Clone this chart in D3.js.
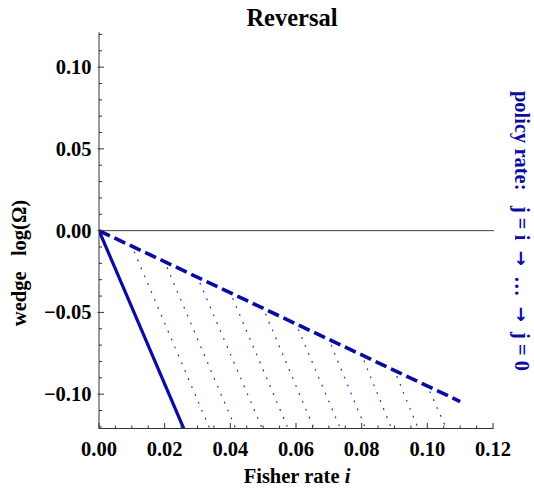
<!DOCTYPE html>
<html><head><meta charset="utf-8">
<script src="https://cdn.jsdelivr.net/npm/d3@7"></script>
<style>
html,body{margin:0;padding:0;background:#fff;}
svg{display:block;}
text{font-family:"Liberation Serif","Times New Roman",serif;font-weight:bold;}
tspan.arr{font-family:"DejaVu Sans",sans-serif;font-weight:bold;}
</style></head><body>
<script>
// ---- data ----
const xTickValues = [0, 0.02, 0.04, 0.06, 0.08, 0.10, 0.12];
const xTickLabels = ["0.00","0.02","0.04","0.06","0.08","0.10","0.12"];
const yTickValues = [-0.10, -0.05, 0, 0.05, 0.10];
const yTickLabels = ["\u22120.10","\u22120.05","0.00","0.05","0.10"];
const solidX = [0, 0.0258];
const solidY = [0, -0.121];
const dashedX = [0, 0.11];
const dashedY = [0, -0.1045];
const dotStartX = [0.01, 0.02, 0.03, 0.04, 0.05, 0.06, 0.07, 0.08, 0.09, 0.10];
const dotStartY = [-0.0095, -0.019, -0.0285, -0.038, -0.0475, -0.057, -0.0665, -0.076, -0.0855, -0.095];
const dotEndX = [0.0337, 0.0416, 0.0497, 0.0576, 0.0655, 0.0735, 0.0812, 0.0891, 0.0972, 0.1058];
const dotEndY = [-0.121, -0.121, -0.121, -0.121, -0.121, -0.121, -0.121, -0.121, -0.121, -0.121];

const W = 534, H = 497;
const svg = d3.select("body").append("svg").attr("width", W).attr("height", H);

const x = d3.scaleLinear().domain([0, 0.12]).range([99, 493]);
const y = d3.scaleLinear().domain([-0.121, 0.1213]).range([428.5, 32.3]);

const blue = "#0a0aa5";
const dotBlue = "#2626d6";

svg.append("clipPath").attr("id","clip").append("rect")
  .attr("x", x(0)).attr("y", y(0.1213)).attr("width", x(0.12)-x(0)+2).attr("height", y(-0.121)-y(0.1213));

const g = svg.append("g").attr("clip-path","url(#clip)");
const line = d3.line().x(d=>x(d[0])).y(d=>y(d[1]));

// zero line
g.append("line").attr("x1", x(0)).attr("x2", x(0.12)+1).attr("y1", y(0)).attr("y2", y(0))
  .attr("stroke","#444").attr("stroke-width",1);

// dotted lines
dotStartX.forEach((sx,i)=>{
  g.append("path").attr("d", line([[sx, dotStartY[i]],[dotEndX[i], dotEndY[i]]]))
    .attr("fill","none").attr("stroke",dotBlue).attr("stroke-width",1.2)
    .attr("stroke-dasharray","1.8,6.8").attr("stroke-dashoffset",-6);
});

// solid line
g.append("path").attr("d", line(solidX.map((v,i)=>[v, solidY[i]])))
  .attr("fill","none").attr("stroke",blue).attr("stroke-width",3.2);

// dashed line
g.append("path").attr("d", line(dashedX.map((v,i)=>[v, dashedY[i]])))
  .attr("fill","none").attr("stroke",blue).attr("stroke-width",3.6)
  .attr("stroke-dasharray","12,5");

// axes
const xAxisG = svg.append("g");
xAxisG.append("line").attr("x1", x(0)).attr("x2", x(0.12)+0.5).attr("y1", y(-0.121)).attr("y2", y(-0.121))
  .attr("stroke","#333").attr("stroke-width",1);
const xMinor = d3.range(0, 0.1201, 0.005);
xMinor.forEach(v=>{
  const major = xTickValues.some(t=>Math.abs(t-v)<1e-9);
  xAxisG.append("line").attr("x1", x(v)).attr("x2", x(v))
    .attr("y1", y(-0.121)).attr("y2", y(-0.121) - (major?5.5:3))
    .attr("stroke","#333").attr("stroke-width",1);
});
xTickValues.forEach((v,i)=>{
  xAxisG.append("text").attr("x", x(v)).attr("y", 455.5).attr("text-anchor","middle")
    .attr("font-size", 20.5).attr("fill","#000").text(xTickLabels[i]);
});

const yAxisG = svg.append("g");
yAxisG.append("line").attr("x1", x(0)).attr("x2", x(0)).attr("y1", y(0.1213)).attr("y2", y(-0.121))
  .attr("stroke","#333").attr("stroke-width",1);
const yMinor = d3.range(-12, 13, 1).map(k=>k*0.01);
yMinor.forEach(v=>{
  const major = yTickValues.some(t=>Math.abs(t-v)<1e-9);
  yAxisG.append("line").attr("x1", x(0) - (major?1.5:0)).attr("x2", x(0) + (major?5:3))
    .attr("y1", y(v)).attr("y2", y(v))
    .attr("stroke","#333").attr("stroke-width",1);
});
yTickValues.forEach((v,i)=>{
  yAxisG.append("text").attr("x", 91.5).attr("y", y(v)+7).attr("text-anchor","end")
    .attr("font-size", 20.5).attr("fill","#000").text(yTickLabels[i]);
});

// title
svg.append("text").attr("x", 292).attr("y", 26).attr("text-anchor","middle")
  .attr("font-size", 24.5).attr("fill","#000").text("Reversal");

// x label
const xl = svg.append("text").attr("x", 297).attr("y", 483).attr("text-anchor","middle")
  .attr("font-size", 20.5).attr("fill","#000");
xl.append("tspan").text("Fisher rate ");
xl.append("tspan").attr("font-style","italic").text("i");

// y label
svg.append("text").attr("transform","translate(26,263) rotate(-90)").attr("text-anchor","middle")
  .attr("font-size", 20.5).attr("fill","#000").style("white-space","pre")
  .text("wedge   log(\u03A9)");

// right label
const rl = svg.append("text").attr("transform","translate(515,231) rotate(90)").attr("text-anchor","middle")
  .attr("font-size", 20.5).attr("fill", blue).style("white-space","pre");
rl.append("tspan").text("policy rate:   j = i  ");
rl.append("tspan").attr("class","arr").attr("font-size",18).text("\u2192");
rl.append("tspan").text("  \u2026  ");
rl.append("tspan").attr("class","arr").attr("font-size",18).text("\u2192");
rl.append("tspan").text("  j = 0");
</script>
</body></html>
